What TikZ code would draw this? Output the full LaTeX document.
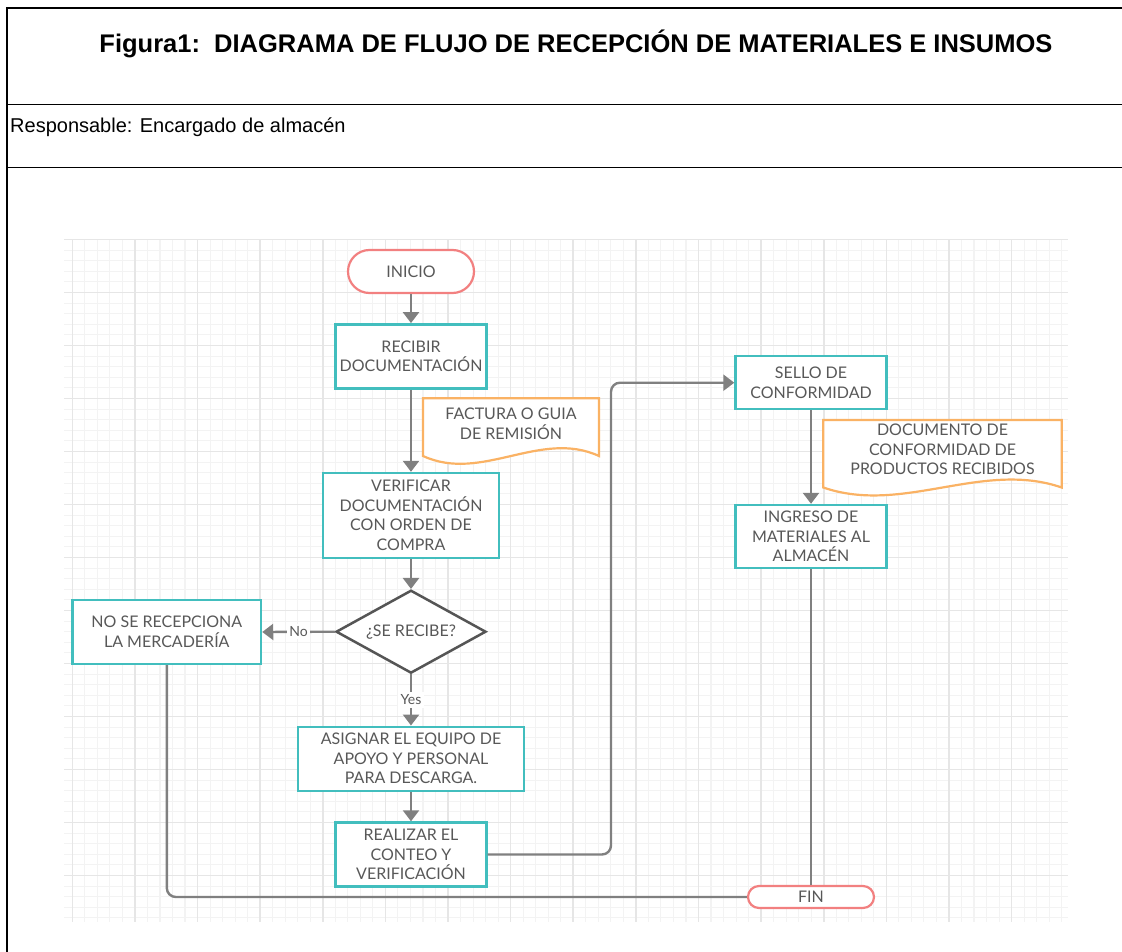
\documentclass[tikz,border=0pt]{standalone}
\usepackage{fontspec}
\setmainfont{Liberation Sans}
\newfontfamily\lato{Lato}
\usetikzlibrary{arrows.meta,shapes.geometric}
\definecolor{tealc}{RGB}{66,190,190}
\definecolor{salmonc}{RGB}{242,128,128}
\definecolor{orangec}{RGB}{250,178,100}
\definecolor{linec}{RGB}{128,128,128}
\definecolor{headc}{RGB}{110,110,110}
\definecolor{diac}{RGB}{85,85,85}
\definecolor{txtc}{RGB}{88,88,88}
\definecolor{minorc}{RGB}{243,243,243}
\definecolor{majorc}{RGB}{230,230,230}
\tikzset{
  frameline/.style={draw=black, line width=1.8pt},
  minorgrid/.style={draw=minorc, line width=1.1pt},
  majorgrid/.style={draw=majorc, line width=1.6pt},
  boxtext/.style={font=\lato\fontsize{16}{19.5}\selectfont, text=txtc, align=center, inner sep=0pt},
  proc/.style={boxtext, draw=tealc, line width=2.4pt, fill=white},
  term/.style={boxtext, draw=salmonc, line width=2.2pt, fill=white},
  decis/.style={boxtext, shape=diamond, draw=diac, line width=2.5pt, fill=white, aspect=1.8, minimum width=150pt, minimum height=83pt},
  docshape/.style={draw=orangec, line width=2.2pt, fill=white},
  doctext/.style={boxtext},
  conn/.style={draw=linec, line width=2.4pt},
  arr/.style={conn, -{Triangle[width=16pt,length=11pt]}, shorten >=0pt},
  lbl/.style={fill=white, font=\lato\fontsize{14}{16}\selectfont, text=txtc, inner sep=2.5pt}
}
\begin{document}
\begin{tikzpicture}[x=1pt,y=-1pt]
\useasboundingbox (0,0) rectangle (1122,952);
\fill[white] (0,0) rectangle (1122,952);
% header frame
\draw[frameline] (7,952) -- (7,8) -- (1122,8);
\draw[frameline] (7,104.5) -- (1122,104.5);
\draw[frameline] (7,167.5) -- (1122,167.5);
\node[font=\bfseries\fontsize{25.5}{30}\selectfont, inner sep=0pt] (title) at (576,44) {Figura1:\ \ DIAGRAMA DE FLUJO DE RECEPCIÓN DE MATERIALES E INSUMOS};
\node[anchor=west, font=\fontsize{20}{24}\selectfont, inner sep=0pt] (resp) at (10,127) {Responsable: Encargado de almacén};
% grid
\fill[white] (64,239.5) rectangle (1068,921.5);
\foreach \i in {0,...,79} {\draw[minorgrid] ({72.3+12.524*\i},239.5) -- ({72.3+12.524*\i},921.5);}
\foreach \j in {0,...,64} {\draw[minorgrid] (64,{239.5+10.6*\j}) -- (1068,{239.5+10.6*\j});}
\foreach \i in {0,...,15} {\draw[majorgrid] ({72.3+62.62*\i},239.5) -- ({72.3+62.62*\i},921.5);}
\foreach \j in {0,...,12} {\draw[majorgrid] (64,{239.5+53*\j}) -- (1068,{239.5+53*\j});}
% documents
\draw[docshape] (423,398.3) -- (599,398.3) -- (599,456) .. controls (540.3,429) and (481.7,483) .. (423,456) -- cycle;
\node[doctext] (factura) at (511,424) {FACTURA O GUIA\\DE REMISIÓN};
\draw[docshape] (823.3,420) -- (1061.7,420) -- (1061.7,487.5) .. controls (982.2,460) and (902.8,515) .. (823.3,487.5) -- cycle;
\node[doctext] (docconf) at (942.5,449.3) {DOCUMENTO DE\\CONFORMIDAD DE\\PRODUCTOS RECIBIDOS};
% nodes
\node[term, minimum width=126pt, minimum height=43pt, rounded corners=21.5pt] (inicio) at (411,271.5) {INICIO};
\node[proc, minimum width=151pt, minimum height=64pt] (recibir) at (411,356.3) {RECIBIR\\DOCUMENTACIÓN};
\node[proc, minimum width=176pt, minimum height=85pt] (verif) at (411,515.5) {VERIFICAR\\DOCUMENTACIÓN\\CON ORDEN DE\\COMPRA};
\node[decis] (dec) at (411,631.7) {¿SE RECIBE?};
\node[proc, minimum width=188.5pt, minimum height=64pt] (nose) at (166.8,632) {NO SE RECEPCIONA\\LA MERCADERÍA};
\node[proc, minimum width=226pt, minimum height=64pt] (asignar) at (411,758.7) {ASIGNAR EL EQUIPO DE\\APOYO Y PERSONAL\\PARA DESCARGA.};
\node[proc, minimum width=151pt, minimum height=64pt] (realizar) at (411,854.5) {REALIZAR EL\\CONTEO Y\\VERIFICACIÓN};
\node[proc, minimum width=151pt, minimum height=53pt] (sello) at (811,382.7) {SELLO DE\\CONFORMIDAD};
\node[proc, minimum width=151pt, minimum height=63pt] (ingreso) at (811,536.5) {INGRESO DE\\MATERIALES AL\\ALMACÉN};
\node[term, minimum width=126pt, minimum height=22pt, rounded corners=11pt] (fin) at (811,897) {FIN};
\coordinate (bend) at (611,0);
% connectors
\draw[arr] (inicio.south) -- (recibir.north);
\draw[arr] (recibir.south) -- (verif.north);
\draw[arr] (verif.south) -- (dec.north);
\draw[arr] (dec.west) -- node[lbl] {No} (nose.east);
\draw[arr] (dec.south) -- node[lbl] {Yes} (asignar.north);
\draw[arr] (asignar.south) -- (realizar.north);
\draw[arr, rounded corners=9pt] (realizar.east) -| (bend |- sello.west) -- (sello.west);
\draw[arr] (sello.south) -- (ingreso.north);
\draw[conn] (ingreso.south) -- (fin.north);
\draw[conn, rounded corners=9pt] (nose.south) |- (fin.west);
\end{tikzpicture}
\end{document}
